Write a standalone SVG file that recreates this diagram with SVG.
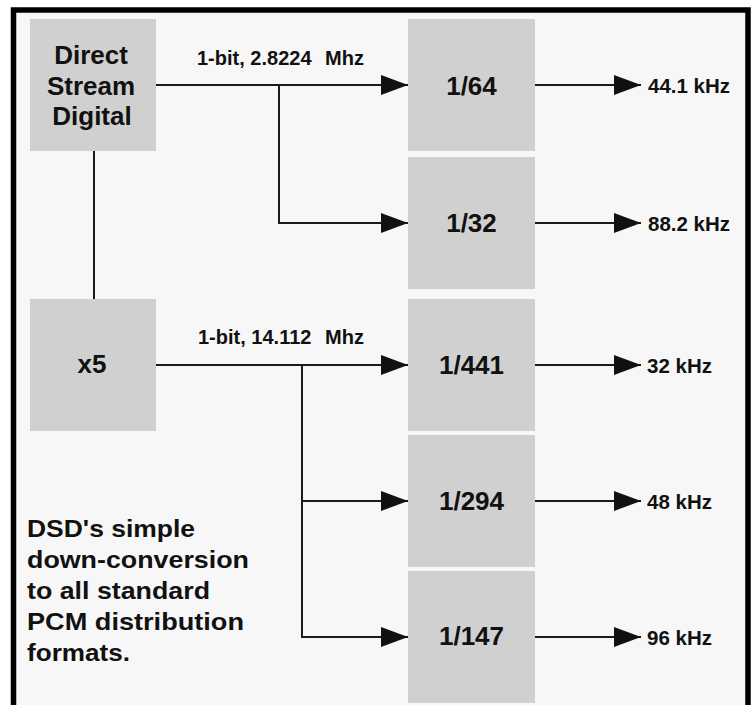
<svg xmlns="http://www.w3.org/2000/svg" width="752" height="705" viewBox="0 0 752 705">
  <defs>
    <marker id="arrow" markerUnits="userSpaceOnUse" markerWidth="27" markerHeight="20" refX="27" refY="10" orient="auto">
      <path d="M0,0 L27,10 L0,20 Z" fill="#111"/>
    </marker>
    <style>
      .box { fill: #d0d0d0; }
      .lbl { font-family: "Liberation Sans", Arial, sans-serif; font-weight: bold; fill: #111; }
      .big { font-size: 26px; text-anchor: middle; }
      .num { font-size: 26px; text-anchor: middle; }
      .out { font-size: 20.5px; }
      .top { font-size: 20px; }
      .para { font-size: 24.5px; }
      .wire { fill: none; stroke: #1a1a1a; stroke-width: 2; }
      .arr { marker-end: url(#arrow); }
    </style>
  </defs>
  <rect x="0" y="0" width="752" height="705" fill="#ffffff"/>
  <rect x="13.5" y="10" width="734.5" height="710" fill="#f7f7f7" stroke="#000" stroke-width="5.5"/>

  <g id="connectors">
    <path class="wire" d="M94,151 V299"/>
    <path class="wire arr" d="M156,85 H408"/>
    <path class="wire arr" d="M279,85 V223 H408"/>
    <path class="wire arr" d="M156,365 H408"/>
    <path class="wire arr" d="M302,365 V501 H408"/>
    <path class="wire arr" d="M302,501 V637 H408"/>
    <path class="wire arr" d="M535,85 H641"/>
    <path class="wire arr" d="M535,223 H641"/>
    <path class="wire arr" d="M535,365 H641"/>
    <path class="wire arr" d="M535,501 H641"/>
    <path class="wire arr" d="M535,637 H641"/>
    <text class="lbl top" x="197" y="65">1-bit, 2.8224<tspan x="325">Mhz</tspan></text>
    <text class="lbl top" x="198" y="344">1-bit, 14.112<tspan x="325">Mhz</tspan></text>
    <text class="lbl out" x="648" y="93">44.1 kHz</text>
    <text class="lbl out" x="648" y="231">88.2 kHz</text>
    <text class="lbl out" x="647" y="373">32 kHz</text>
    <text class="lbl out" x="647" y="509">48 kHz</text>
    <text class="lbl out" x="647" y="645">96 kHz</text>
  </g>

  <g id="dsd">
    <rect class="box" x="30" y="19" width="126" height="132"/>
    <text class="lbl big" x="91" y="63.5">Direct</text>
    <text class="lbl big" x="91" y="94.5">Stream</text>
    <text class="lbl big" x="92" y="124.5">Digital</text>
  </g>
  <g id="x5">
    <rect class="box" x="30" y="299" width="126" height="132"/>
    <text class="lbl big" x="92" y="373">x5</text>
  </g>
  <g id="div64">
    <rect class="box" x="408" y="19" width="127" height="132"/>
    <text class="lbl num" x="471.5" y="95">1/64</text>
  </g>
  <g id="div32">
    <rect class="box" x="408" y="157" width="127" height="132"/>
    <text class="lbl num" x="471.5" y="232">1/32</text>
  </g>
  <g id="div441">
    <rect class="box" x="408" y="299" width="127" height="132"/>
    <text class="lbl num" x="471.5" y="374">1/441</text>
  </g>
  <g id="div294">
    <rect class="box" x="408" y="435" width="127" height="132"/>
    <text class="lbl num" x="471.5" y="510">1/294</text>
  </g>
  <g id="div147">
    <rect class="box" x="408" y="571" width="127" height="132"/>
    <text class="lbl num" x="471.5" y="645">1/147</text>
  </g>

  <g id="caption">
    <text class="lbl para" x="27" y="537" textLength="168" lengthAdjust="spacingAndGlyphs">DSD's simple</text>
    <text class="lbl para" x="27" y="568" textLength="222" lengthAdjust="spacingAndGlyphs">down-conversion</text>
    <text class="lbl para" x="27" y="599" textLength="183" lengthAdjust="spacingAndGlyphs">to all standard</text>
    <text class="lbl para" x="27" y="630" textLength="217" lengthAdjust="spacingAndGlyphs">PCM distribution</text>
    <text class="lbl para" x="27" y="661" textLength="103" lengthAdjust="spacingAndGlyphs">formats.</text>
  </g>
</svg>
